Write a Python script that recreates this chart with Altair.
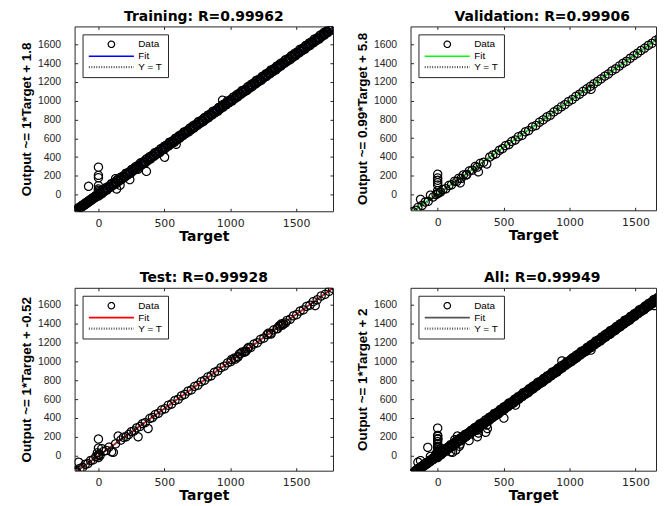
import altair as alt
import pandas as pd

SERIES = ["Data", "Fit", "Y = T"]
X_TICKS = [0, 500, 1000, 1500]
Y_TICKS = [0, 200, 400, 600, 800, 1000, 1200, 1400, 1600]

# ---------------- Training ----------------
TRAIN_TARGET = [
    -178, -172, -166, -160, -154, -148, -142, -136, -130, -124, -118, -112, -106, -100, -94, -88, -82, -76,
    -70, -64, -58, -52, -46, -40, -34, -28, -22, -16, -10, -4, 0, 0, 0, 0, 0, 0,
    -75, 130, 138, 164, 238, 300, 364, 502, 590, 942,
    -181, -175, -169, -163, -157, -151, -145, -139, -133, -127, -121, -115, -109, -103, -97, -91, -85, -79,
    -73, -67, -61, -55, -49, -43, -37, -31, -25, -19, -13, -7, -2, 0, 0, 0,
    10, 21, 32, 43, 54, 65, 76, 87, 98, 109, 120, 131, 142, 153, 164, 175, 186, 197, 208, 219,
    230, 241, 252, 263, 274, 285, 296, 307, 318, 329, 340, 351, 362, 373, 384, 395, 406, 417, 428, 439,
    450, 461, 472, 483, 494, 505, 516, 527, 538, 549, 560, 571, 582, 593, 604, 615, 626, 637, 648, 659,
    670, 681, 692, 703, 714, 725, 736, 747, 758, 769, 780, 791, 802, 813, 824, 835, 846, 857, 868, 879,
    890, 901, 912, 923, 934, 945, 956, 967, 978, 989, 1000, 1011, 1022, 1033, 1044, 1055, 1066, 1077, 1088, 1099,
    1110, 1121, 1132, 1143, 1154, 1165, 1176, 1187, 1198, 1209, 1220, 1231, 1242, 1253, 1264, 1275, 1286, 1297, 1308, 1319,
    1330, 1341, 1352, 1363, 1374, 1385, 1396, 1407, 1418, 1429, 1440, 1451, 1462, 1473, 1484, 1495, 1506, 1517, 1528, 1539,
    1550, 1561, 1572, 1583, 1594, 1605, 1616, 1627, 1638, 1649, 1660, 1671, 1682, 1693, 1704, 1715, 1726, 1737, 1748, 1759,
    1770, 1781,
    4, 15, 26, 37, 48, 59, 70, 81, 92, 103, 114, 125, 136, 147, 158, 169, 180, 191, 202, 213,
    224, 235, 246, 257, 268, 279, 290, 301, 312, 323, 334, 345, 356, 367, 378, 389, 400, 411, 422, 433,
    444, 455, 466, 477, 488, 499, 510, 521, 532, 543, 554, 565, 576, 587, 598, 609, 620, 631, 642, 653,
    664, 675, 686, 697, 708, 719, 730, 741, 752, 763, 774, 785, 796, 807, 818, 829, 840, 851, 862, 873,
    884, 895, 906, 917, 928, 939, 950, 961, 972, 983, 994, 1005, 1016, 1027, 1038, 1049, 1060, 1071, 1082, 1093,
    1104, 1115, 1126, 1137, 1148, 1159, 1170, 1181, 1192, 1203, 1214, 1225, 1236, 1247, 1258, 1269, 1280, 1291, 1302, 1313,
    1324, 1335, 1346, 1357, 1368, 1379, 1390, 1401, 1412, 1423, 1434, 1445, 1456, 1467, 1478, 1489, 1500, 1511, 1522, 1533,
    1544, 1555, 1566, 1577, 1588, 1599, 1610, 1621, 1632, 1643, 1654, 1665, 1676, 1687, 1698, 1709, 1720, 1731, 1742, 1753,
    1764, 1775,
]
TRAIN_OUTPUT = [
    -176, -168, -170, -150, -158, -140, -146, -128, -134, -116, -122, -104, -110, -92, -98, -80, -86, -70,
    -74, -58, -62, -46, -50, -34, -38, -22, -26, -10, -14, 2, 292, 205, 180, 95, 60, 30,
    88, 170, 60, 100, 159, 270, 247, 398, 536, 1006,
    -184, -178, -162, -168, -150, -156, -138, -144, -126, -132, -114, -120, -102, -108, -90, -96, -78, -84,
    -66, -72, -54, -60, -42, -48, -30, -36, -18, -24, -6, -12, 8, 15, -15, 45,
    19, 14, 47, 31, 58, 49, 87, 84, 117, 99, 129, 124, 157, 141, 168, 159, 197, 194, 227, 209,
    239, 234, 267, 251, 278, 269, 307, 304, 337, 319, 349, 344, 377, 361, 388, 379, 417, 414, 447, 429,
    459, 454, 487, 471, 498, 489, 527, 524, 557, 539, 569, 564, 597, 581, 608, 599, 637, 634, 667, 649,
    679, 674, 707, 691, 718, 709, 747, 744, 777, 759, 789, 784, 817, 801, 828, 819, 857, 854, 887, 869,
    899, 894, 927, 911, 938, 929, 967, 964, 997, 979, 1009, 1004, 1037, 1021, 1048, 1039, 1077, 1074, 1107, 1089,
    1119, 1114, 1147, 1131, 1158, 1149, 1187, 1184, 1217, 1199, 1229, 1224, 1257, 1241, 1268, 1259, 1297, 1294, 1327, 1309,
    1339, 1334, 1367, 1351, 1378, 1369, 1407, 1404, 1437, 1419, 1449, 1444, 1477, 1461, 1488, 1479, 1517, 1514, 1547, 1529,
    1559, 1554, 1587, 1571, 1598, 1589, 1627, 1624, 1657, 1639, 1669, 1664, 1697, 1681, 1708, 1699, 1737, 1734, 1767, 1749,
    1779, 1776,
    -8, 21, 8, 50, 43, 75, 61, 83, 78, 113, 102, 131, 118, 160, 153, 185, 171, 193, 188, 223,
    212, 241, 228, 270, 263, 295, 281, 303, 298, 333, 322, 351, 338, 380, 373, 405, 391, 413, 408, 443,
    432, 461, 448, 490, 483, 515, 501, 523, 518, 553, 542, 571, 558, 600, 593, 625, 611, 633, 628, 663,
    652, 681, 668, 710, 703, 735, 721, 743, 738, 773, 762, 791, 778, 820, 813, 845, 831, 853, 848, 883,
    872, 901, 888, 930, 923, 955, 941, 963, 958, 993, 982, 1011, 998, 1040, 1033, 1065, 1051, 1073, 1068, 1103,
    1092, 1121, 1108, 1150, 1143, 1175, 1161, 1183, 1178, 1213, 1202, 1231, 1218, 1260, 1253, 1285, 1271, 1293, 1288, 1323,
    1312, 1341, 1328, 1370, 1363, 1395, 1381, 1403, 1398, 1433, 1422, 1451, 1438, 1480, 1473, 1505, 1491, 1513, 1508, 1543,
    1532, 1561, 1548, 1590, 1583, 1615, 1601, 1623, 1618, 1653, 1642, 1671, 1658, 1700, 1693, 1725, 1711, 1733, 1728, 1763,
    1752, 1785,
]

# ---------------- Validation ----------------
VAL_TARGET = [
    -188, -165, -150, -130, -118, -95, -72, -55, -35, -12,
    0, 0, 0, 0, 0, 0, 0, 8, 22, 40,
    62, 85, 105, 128, 145, 160, 171, 178, 195, 215,
    221, 240, 262, 285, 300, 309, 322, 348, 372, 395,
    418, 442, 468, 492, 515, 540, 562, 588, 612, 640,
    665, 690, 718, 745, 772, 800, 828, 855, 882, 910,
    938, 965, 992, 1020, 1048, 1075, 1102, 1130, 1158, 1163,
    1185, 1212, 1240, 1268, 1295, 1322, 1350, 1378, 1405, 1432,
    1460, 1488, 1515, 1542, 1570, 1598, 1625, 1652, 1680, 1710,
    1740, 1770,
]
VAL_OUTPUT = [
    -183, -170, -140, -53, -118, -82, -75, -8, -28, -3,
    8, 40, 100, 125, 150, 175, 215, 18, 25, 52,
    60, 95, 102, 140, 138, 172, 123, 170, 208, 205,
    212, 250, 258, 298, 290, 240, 330, 342, 324, 398,
    420, 432, 470, 488, 520, 532, 565, 580, 615, 630,
    668, 680, 720, 735, 770, 795, 826, 845, 880, 905,
    935, 958, 990, 1012, 1045, 1068, 1098, 1125, 1152, 1120,
    1180, 1205, 1232, 1262, 1285, 1318, 1340, 1370, 1398, 1420,
    1452, 1480, 1505, 1535, 1560, 1590, 1612, 1642, 1668, 1700,
    1725, 1760,
]

# ---------------- Test ----------------
TEST_TARGET = [
    -178, -170, -165, -150, -140, -120, -100, -80, -60, -40,
    -20, -8, 0, 0, 0, 0, 5, 12, 25, 40,
    60, 80, 100, 113, 130, 150, 170, 190, 210, 230,
    250, 270, 290, 301, 315, 335, 355, 377, 390, 410,
    430, 455, 480, 505, 530, 555, 580, 605, 630, 655,
    680, 705, 730, 755, 780, 805, 830, 855, 880, 905,
    930, 955, 980, 1005, 1030, 1055, 1080, 1105, 1130, 1155,
    1180, 1205, 1230, 1255, 1280, 1305, 1330, 1355, 1380, 1405,
    1430, 1455, 1480, 1505, 1530, 1555, 1580, 1605, 1630, 1645,
    1660, 1690, 1720, 1750, 1775, 1010, 1060, 1090, 1115, 1290,
    1310, 1390, 1420, 1040, 1070, 1120, 1140, 1360, 1370, 1395,
]
TEST_OUTPUT = [
    -175, -160, -172, -70, -135, -125, -92, -85, -52, -45,
    -12, 30, 5, 80, 176, -20, 15, 0, 74, 45,
    55, 90, 40, 35, 125, 208, 165, 195, 200, 225,
    255, 262, 295, 200, 310, 340, 350, 288, 395, 405,
    435, 450, 485, 498, 535, 548, 585, 598, 635, 650,
    685, 698, 735, 748, 785, 800, 835, 848, 885, 898,
    935, 950, 985, 998, 1035, 1048, 1085, 1098, 1135, 1148,
    1185, 1198, 1235, 1248, 1285, 1298, 1335, 1348, 1385, 1398,
    1435, 1448, 1485, 1498, 1535, 1548, 1585, 1598, 1635, 1593,
    1655, 1695, 1712, 1745, 1778, 1020, 1050, 1100, 1105, 1300,
    1290, 1400, 1410, 1025, 1080, 1110, 1150, 1350, 1375, 1385,
]

# ---------------- All = union ----------------
ALL_TARGET = TRAIN_TARGET + VAL_TARGET + TEST_TARGET
ALL_OUTPUT = TRAIN_OUTPUT + VAL_OUTPUT + TEST_OUTPUT

TITLES = ["Training: R=0.99962", "Validation: R=0.99906", "Test: R=0.99928", "All: R=0.99949"]
YLABELS = ["Output ~= 1*Target + 1.8", "Output ~= 0.99*Target + 5.8",
           "Output ~= 1*Target + -0.52", "Output ~= 1*Target + 2"]
SLOPES = [1.0, 0.99, 1.0, 1.0]
INTERCEPTS = [1.8, 5.8, -0.52, 2.0]
FIT_COLORS = ["#0000ff", "#00ff00", "#ff0000", "#555555"]

INK = "#262626"


def panel(title, ylab, tt, oo, slope, icpt, fitcol, xdom, ydom, w, h, right_axis, title_dx):
    pts = pd.DataFrame({"Target": tt, "Output": oo, "series": "Data"})
    lo, hi = xdom
    lines = pd.DataFrame({
        "Target": [lo, hi, lo, hi],
        "Output": [slope * lo + icpt, slope * hi + icpt, lo, hi],
        "series": ["Fit", "Fit", "Y = T", "Y = T"],
    })
    xs = alt.Scale(domain=xdom, nice=False, zero=False)
    ys = alt.Scale(domain=ydom, nice=False, zero=False)
    leg = alt.Legend(title=None, orient="top-left", offset=8, padding=5,
                     fillColor="white", strokeColor=INK, cornerRadius=0,
                     labelFont="Liberation Sans", labelFontSize=10, labelColor="black",
                     symbolSize=42, symbolOffset=19, labelOffset=22, rowPadding=1)
    color = alt.Color("series:N", scale=alt.Scale(domain=SERIES, range=["#000000", fitcol, "#555555"]), legend=leg)
    dash = alt.StrokeDash("series:N", scale=alt.Scale(domain=SERIES, range=[[1, 0], [1, 0], [1, 1.5]]), legend=leg)
    sw = alt.StrokeWidth("series:N", scale=alt.Scale(domain=SERIES, range=[1.2, 2.2, 1]), legend=leg)
    shape = alt.Shape("series:N", scale=alt.Scale(domain=SERIES, range=["circle", "M-7,0H7", "M-7,0H7"]), legend=leg)

    ax_bottom = alt.Axis(orient="bottom", values=X_TICKS, format="d", domain=False, grid=False, offset=-3, tickSize=3,
                         tickColor=INK, labelFont="DejaVu Sans", labelFontSize=11, labelColor=INK,
                         labelPadding=6, labelFlush=False, title="Target", titleFont="DejaVu Sans",
                         titleFontSize=14, titleFontWeight="bold", titleColor="black", titlePadding=1)
    ax_left = alt.Axis(orient="left", values=Y_TICKS, format="d", domain=False, grid=False, offset=-3, tickSize=3,
                       tickColor=INK, labelFont="Liberation Sans", labelFontSize=10.5, labelColor=INK,
                       labelPadding=14, labelFlush=False, title=ylab, titleFont="Liberation Sans",
                       titleFontSize=13.5, titleFontWeight="bold", titleColor="black", titlePadding=4)
    ax_top = alt.Axis(orient="top", values=X_TICKS, domain=False, grid=False, labels=False, offset=-3,
                      tickSize=3, tickColor=INK, title=None)
    ax_right = alt.Axis(orient="right", values=Y_TICKS, domain=False, grid=False, labels=False, offset=-3,
                        tickSize=3, tickColor=INK, title=None)

    line_layer = alt.Chart(lines).mark_line(clip=True).encode(
        x=alt.X("Target:Q", scale=xs, axis=ax_top),
        y=alt.Y("Output:Q", scale=ys, axis=ax_right if right_axis else None),
        color=color, strokeDash=dash, strokeWidth=sw,
    )
    pt_layer = alt.Chart(pts).mark_point(filled=False, opacity=1, size=68, clip=True).encode(
        x=alt.X("Target:Q", scale=xs, axis=ax_bottom),
        y=alt.Y("Output:Q", scale=ys, axis=ax_left),
        color=color, shape=shape, strokeWidth=sw, strokeDash=dash,
    )
    return alt.layer(line_layer, pt_layer).resolve_axis(x="independent", y="independent").properties(
        width=w, height=h,
        title=alt.TitleParams(title, font="DejaVu Sans", fontSize=14, fontWeight="bold", color="black",
                              offset=2, anchor="middle", frame="group", dx=title_dx),
    )


p1 = panel(TITLES[0], YLABELS[0], TRAIN_TARGET, TRAIN_OUTPUT, SLOPES[0], INTERCEPTS[0], FIT_COLORS[0],
           [-181, 1780], [-178, 1792], 260, 186, True, 0)
p2 = panel(TITLES[1], YLABELS[1], VAL_TARGET, VAL_OUTPUT, SLOPES[1], INTERCEPTS[1], FIT_COLORS[1],
           [-206, 1656], [-170, 1792], 247, 185, False, 9)
p3 = panel(TITLES[2], YLABELS[2], TEST_TARGET, TEST_OUTPUT, SLOPES[2], INTERCEPTS[2], FIT_COLORS[2],
           [-181, 1780], [-160, 1782], 260, 184, True, 0)
p4 = panel(TITLES[3], YLABELS[3], ALL_TARGET, ALL_OUTPUT, SLOPES[3], INTERCEPTS[3], FIT_COLORS[3],
           [-206, 1656], [-160, 1782], 247, 184, False, 9)

IND = dict(color="independent", shape="independent", strokeDash="independent", strokeWidth="independent")
row1 = alt.hconcat(p1, p2, spacing=21).resolve_scale(**IND)
row2 = alt.hconcat(p3, p4, spacing=21).resolve_scale(**IND)
chart = alt.vconcat(row1, row2, spacing=27).resolve_scale(**IND).properties(
    padding={"left": 11, "top": 0, "right": 0, "bottom": 0},
    background="white",
).configure_view(stroke=INK, strokeWidth=1)

chart.save("out.html", embed_options={"renderer": "svg", "actions": False})
